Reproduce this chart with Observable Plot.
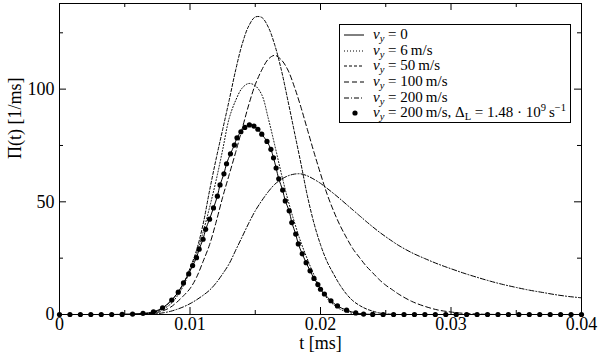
<!DOCTYPE html>
<html><head><meta charset="utf-8">
<script src="https://cdn.jsdelivr.net/npm/d3@7"></script>
<script src="https://cdn.jsdelivr.net/npm/@observablehq/plot@0.6"></script>
<style>
html,body{margin:0;padding:0;background:#fff;}
#wrap{position:relative;width:599px;height:354px;}
#legend{position:absolute;left:339px;top:24px;width:232px;height:99px;border:1px solid #000;background:#fff;box-sizing:border-box;font-family:"Liberation Serif","Tinos","Times New Roman","DejaVu Serif",serif;font-size:15px;color:#000;padding-top:2px;}
.row{position:relative;height:15.67px;}
.row svg{position:absolute;left:3px;top:3px;}
.row .lab{position:absolute;left:33px;top:0;line-height:15.67px;white-space:nowrap;}
.sb{font-size:10.5px;position:relative;top:3px;}
.sp{font-size:10.5px;position:relative;top:-6px;}
</style></head>
<body>
<div id="wrap"><div id="chart"></div><div id="legend"></div></div>
<script>
// ---- data ----
const tGrid = [0,0.002,0.004,0.005,0.0055,
 0.006,0.0065,0.007,0.0075,0.008,0.0085,0.009,0.0095,0.010,0.0105,0.011,0.0115,0.012,0.0125,0.013,0.0135,0.014,0.0145,0.015,0.0155,0.016,0.0165,0.017,0.0175,0.018,0.0185,0.019,0.0195,0.020,0.0205,0.021,0.0215,0.022,0.0225,0.023,0.0235,0.024,0.0245,0.025,0.0255,0.026,
 0.027,0.028,0.029,0.030,0.031,0.032,0.033,0.034,0.035,0.036,0.037,0.038,0.039,0.040];

const pi6 = [0,0,0,0.03,0.08,
 0.15,0.35,0.7,1.4,2.6,4.6,8.0,12.8,19.5,27,36.5,47.5,59.5,73,87,95,100.5,102.5,101.5,97.5,87,75,62.5,51,41,32,24.5,17.5,11.5,7.2,4.4,2.4,1.2,0.5,0.2,0.05,0,0,0,0,0,
 0,0,0,0,0,0,0,0,0,0,0,0,0,0];

const pi50 = [0,0,0,0.03,0.07,
 0.15,0.3,0.6,1.5,3.2,5.8,9.3,13.8,20.5,28.5,40,55,69,82,95,108.5,120,128,132,131.8,127.5,119.5,108.5,95,81,67,52.5,40.5,31,23.5,18,13,9,6,4,2.5,1.5,0.7,0.3,0.1,0,
 0,0,0,0,0,0,0,0,0,0,0,0,0,0];

const pi100 = [0,0,0,0.01,0.03,
 0.05,0.15,0.4,0.9,1.8,3.2,5.5,8.3,11.5,16.5,23.5,31,41,52,62,72,82.5,93,102,108.5,113.3,115,113,108.5,101,92,82,72,62.5,53.5,46,39.5,34,29,25.2,21.5,18.5,15.5,13,11,9,
 5.8,3.6,2.0,1.1,0.5,0.2,0.05,0,0,0,0,0,0,0];

const pi200 = [0,0,0,0.01,0.03,
 0.05,0.1,0.2,0.4,0.8,1.4,2.3,3.4,4.8,6.5,8.5,10.8,14,18,22.5,28.5,34.5,40.5,46,50.5,54.5,57.8,60,61.5,62.3,62.4,61.5,60,58.2,56,53.7,51.3,48.8,46.3,43.8,41.3,38.9,36.6,34.5,32.5,30.6,
 27.4,24.8,22.4,20.3,18.3,16.5,14.8,13.3,12,10.8,9.8,8.8,8.0,7.4];

// v_y = 0 (solid) and v_y = 200 m/s with Delta_L (dots) share these samples
const dotT = [0,0.0008,0.0016,0.0024,0.0032,0.0040,0.0048,0.0056,0.0064,
 0.0072,0.0079,0.0086,0.0091,0.0095,0.0099,0.0102,0.0105,0.0107,0.0110,0.0112,0.0115,0.0118,0.0121,0.0123,0.0126,0.0128,0.0131,0.0134,0.0136,0.0139,0.0142,0.01455,
 0.0149,0.0152,0.0155,0.0159,0.0162,0.0164,0.0166,0.0168,0.0171,0.0173,0.0176,0.0178,0.0181,0.0183,0.0186,0.0189,0.0192,0.0195,0.0198,0.0200,0.0203,0.0208,0.0213,0.0220,0.0227,0.0233,
 0.0240,0.0248,0.0256,0.0264,0.0272,0.0280,0.0288,0.0296,0.0304,0.0312,0.0320,0.0328,0.0336,0.0344,0.0352,0.0360,0.0368,0.0376,0.0384,0.0392,0.0400];
const dotY = [0,0,0,0,0,0,0.05,0.2,0.5,
 1.2,3.0,6.4,9.9,14.0,18.0,21.7,25.2,29.0,33.4,37.8,42.3,47.3,52.5,57.5,62.4,66.9,71.3,75.2,78.4,81.1,83.0,84.1,
 83.6,82.2,80.0,76.8,73.3,69.5,65.0,60.2,55.2,50.4,46.0,40.8,35.7,31.3,26.9,23.0,19.4,16.0,13.3,11.2,9.1,6.1,3.8,1.9,0.7,0.2,
 0.05,0,0,0,0,0,0,0,0,0,0,0,0,0,0,0,0,0,0,0,0];

const xMajor = [0,0.01,0.02,0.03,0.04];
const xTickLabels = ["0","0.01","0.02","0.03","0.04"];
const xMinor = [0.005,0.015,0.025,0.035];
const yMajor = [0,50,100];
const yTickLabels = ["0","50","100"];
const yMinor = [25,75,125];

const legendLabels = [
 '<i>v</i><span class="sb"><i>y</i></span> = 0',
 '<i>v</i><span class="sb"><i>y</i></span> = 6&#8201;m/s',
 '<i>v</i><span class="sb"><i>y</i></span> = 50&#8201;m/s',
 '<i>v</i><span class="sb"><i>y</i></span> = 100&#8201;m/s',
 '<i>v</i><span class="sb"><i>y</i></span> = 200&#8201;m/s',
 '<i>v</i><span class="sb"><i>y</i></span> = 200&#8201;m/s, &Delta;<span class="sb">L</span> = 1.48 &middot; 10<span class="sp">9</span>&#8201;s<span class="sp">&minus;1</span>'
];
const dashes = [null, "1,2", "3,2", "5,3", "5,2,1,2", "dot"];

// ---- chart ----
const W = 599, H = 354, mL = 59, mR = 18, mT = 3, mB = 40;
const PW = W - mL - mR, PH = H - mT - mB;
const FONT = '"Liberation Serif", "Tinos", "Times New Roman", "DejaVu Serif", serif';
const lineOpts = (ys, dash) => ({x: d => d, y: (d, i) => ys[i], curve: "catmull-rom", stroke: "black", strokeWidth: 1, strokeDasharray: dash});

const chart = Plot.plot({
  width: W, height: H,
  marginLeft: mL, marginRight: mR, marginTop: mT, marginBottom: mB,
  style: {fontFamily: FONT, fontSize: "18px", color: "black", background: "white"},
  x: {domain: [0, 0.04], label: null},
  y: {domain: [0, 138], label: null},
  marks: [
    Plot.line(tGrid, lineOpts(pi200, "5,2,1,2")),
    Plot.line(tGrid, lineOpts(pi100, "5,3")),
    Plot.line(tGrid, lineOpts(pi50, "3,2")),
    Plot.line(tGrid, lineOpts(pi6, "1,2")),
    Plot.line(dotT, lineOpts(dotY, null)),
    Plot.dot(dotT, {x: d => d, y: (d, i) => dotY[i], r: 2.6, fill: "black", stroke: "none"}),
    Plot.frame({stroke: "black"}),
    Plot.tickX(xMajor, {x: d => d, insetTop: PH - 7, stroke: "black"}),
    Plot.tickX(xMinor, {x: d => d, insetTop: PH - 4, stroke: "black"}),
    Plot.tickX(xMajor, {x: d => d, insetBottom: PH - 7, stroke: "black"}),
    Plot.tickX(xMinor, {x: d => d, insetBottom: PH - 4, stroke: "black"}),
    Plot.tickY(yMajor, {y: d => d, insetRight: PW - 7, stroke: "black"}),
    Plot.tickY(yMinor, {y: d => d, insetRight: PW - 4, stroke: "black"}),
    Plot.tickY(yMajor, {y: d => d, insetLeft: PW - 7, stroke: "black"}),
    Plot.tickY(yMinor, {y: d => d, insetLeft: PW - 4, stroke: "black"}),
    Plot.axisX(xMajor, {anchor: "bottom", tickSize: 0, tickPadding: 3, label: null, tickFormat: d => xTickLabels[xMajor.indexOf(d)], fill: "black", fontFamily: FONT, fontSize: 18}),
    Plot.axisY(yMajor, {anchor: "left", tickSize: 0, tickPadding: 5, label: null, tickFormat: d => yTickLabels[yMajor.indexOf(d)], fill: "black", fontFamily: FONT, fontSize: 18}),
    Plot.text(["t [ms]"], {text: d => d, frameAnchor: "bottom", lineAnchor: "bottom", dy: 34, fill: "black", fontSize: 18, fontFamily: FONT}),
    Plot.text(["\u03A0(t) [1/ms]"], {text: d => d, frameAnchor: "left", rotate: -90, dx: -44, fill: "black", fontSize: 18, fontFamily: FONT})
  ]
});
document.getElementById("chart").appendChild(chart);

// ---- legend ----
const leg = document.getElementById("legend");
legendLabels.forEach((lab, i) => {
  const row = document.createElement("div");
  row.className = "row";
  let sample;
  if (dashes[i] === "dot") {
    sample = '<svg width="24" height="10"><circle cx="12" cy="5" r="2.6" fill="black"/></svg>';
  } else {
    sample = '<svg width="24" height="10"><line x1="1" y1="5" x2="21" y2="5" stroke="black" stroke-width="1"' + (dashes[i] ? ' stroke-dasharray="' + dashes[i] + '"' : '') + '/></svg>';
  }
  row.innerHTML = sample + '<span class="lab">' + lab + '</span>';
  leg.appendChild(row);
});
</script>
</body></html>
